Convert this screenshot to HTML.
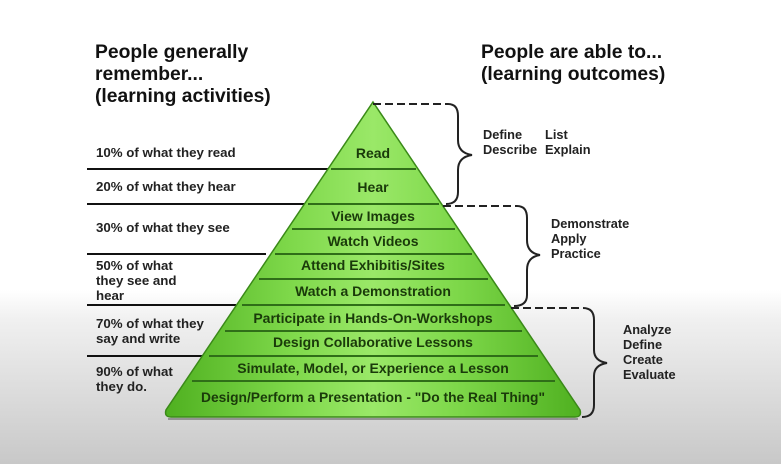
<!DOCTYPE html>
<html><head><style>
body{margin:0;width:781px;height:464px;overflow:hidden;background:linear-gradient(#fff 0,#fff 290px,#f0f0f0 320px,#c8c8c8 464px);font-family:"Liberation Sans",Arial,sans-serif}
</style></head><body>
<svg width="781" height="464" xmlns="http://www.w3.org/2000/svg" style="position:absolute;left:0;top:0">
<defs>
<linearGradient id="g" x1="0" x2="1" y1="0" y2="0">
<stop offset="0" stop-color="#4fb020"/><stop offset="0.3" stop-color="#7ed84a"/><stop offset="0.5" stop-color="#9ae868"/><stop offset="0.7" stop-color="#7ed84a"/><stop offset="1" stop-color="#4fb020"/>
</linearGradient>
</defs>
<g font-weight="bold" font-size="19.3" fill="#111">
<text x="95" y="58">People generally</text>
<text x="95" y="80">remember...</text>
<text x="95" y="102">(learning activities)</text>
<text x="481" y="58">People are able to...</text>
<text x="481" y="80">(learning outcomes)</text>
</g>
<g stroke="#111" stroke-width="2">
<line x1="87" y1="169" x2="335" y2="169"/>
<line x1="87" y1="204" x2="312" y2="204"/>
<line x1="87" y1="254" x2="266" y2="254"/>
<line x1="87" y1="305" x2="236" y2="305"/>
<line x1="87" y1="356" x2="203" y2="356"/>
</g>
<g font-size="13.3" font-weight="bold" fill="#222">
<text x="96" y="157">10% of what they read</text>
<text x="96" y="191">20% of what they hear</text>
<text x="96" y="232">30% of what they see</text>
<text x="96" y="270">50% of what</text>
<text x="96" y="285">they see and</text>
<text x="96" y="300">hear</text>
<text x="96" y="328">70% of what they</text>
<text x="96" y="343">say and write</text>
<text x="96" y="376">90% of what</text>
<text x="96" y="391">they do.</text>
</g>
<path d="M373,102 L580,410 Q582,417 575,417 L171,417 Q164,417 166,410 Z" fill="url(#g)" stroke="#3a8a18" stroke-width="1.5"/>
<line x1="168" y1="419" x2="578" y2="419" stroke="#555" stroke-width="2" opacity="0.5"/>
<g stroke="#2f6e18" stroke-width="2">
<line x1="331" y1="169" x2="416" y2="169"/>
<line x1="308" y1="204" x2="439" y2="204"/>
<line x1="292" y1="229" x2="455" y2="229"/>
<line x1="275" y1="254" x2="472" y2="254"/>
<line x1="259" y1="279" x2="488" y2="279"/>
<line x1="242" y1="305" x2="505" y2="305"/>
<line x1="225" y1="331" x2="522" y2="331"/>
<line x1="209" y1="356" x2="538" y2="356"/>
<line x1="192" y1="381" x2="555" y2="381"/>
</g>
<g font-size="14" font-weight="bold" fill="#1a3a0a" text-anchor="middle">
<text x="373" y="158">Read</text>
<text x="373" y="192">Hear</text>
<text x="373" y="221">View Images</text>
<text x="373" y="246">Watch Videos</text>
<text x="373" y="270">Attend Exhibitis/Sites</text>
<text x="373" y="296">Watch a Demonstration</text>
<text x="373" y="323">Participate in Hands-On-Workshops</text>
<text x="373" y="347">Design Collaborative Lessons</text>
<text x="373" y="373">Simulate, Model, or Experience a Lesson</text>
<text x="373" y="402" textLength="344" lengthAdjust="spacingAndGlyphs">Design/Perform a Presentation - "Do the Real Thing"</text>
</g>
<g fill="none" stroke="#222" stroke-width="2">
<path d="M373,104 H448" stroke-dasharray="8,4"/>
<path d="M448,104 Q458,104 458,116 V140 Q458,153 472,155 Q458,157 458,170 V192 Q458,204 446,204"/>
<path d="M443,206 H517" stroke-dasharray="8,4"/>
<path d="M517,206 Q527,206 527,218 V240 Q527,253 540,255 Q527,257 527,270 V295 Q527,306 514,306"/>
<path d="M511,308 H583" stroke-dasharray="8,4"/>
<path d="M583,308 Q594,308 594,320 V350 Q594,361 607,363 Q594,365 594,376 V405 Q594,417 582,417"/>
</g>
<g font-size="12.8" font-weight="bold" fill="#222">
<text x="483" y="139">Define</text><text x="545" y="139">List</text>
<text x="483" y="154">Describe</text><text x="545" y="154">Explain</text>
<text x="551" y="228">Demonstrate</text>
<text x="551" y="243">Apply</text>
<text x="551" y="258">Practice</text>
<text x="623" y="334">Analyze</text>
<text x="623" y="349">Define</text>
<text x="623" y="364">Create</text>
<text x="623" y="379">Evaluate</text>
</g>
</svg>
</body></html>
